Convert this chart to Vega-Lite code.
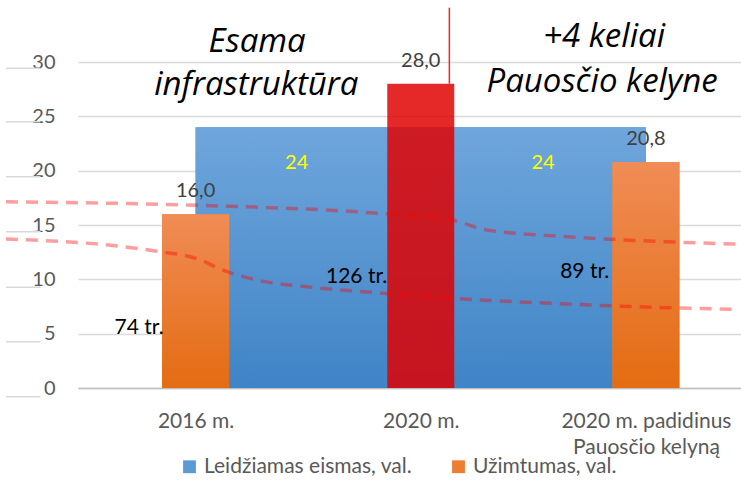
{
  "$schema": "https://vega.github.io/schema/vega-lite/v6.json",
  "width": 663,
  "height": 326,
  "autosize": {"type": "none"},
  "padding": {"left": 78, "top": 62, "right": 0, "bottom": 108},
  "background": "white",
  "config": {
    "font": "Lato",
    "view": {"stroke": null}
  },
  "datasets": {
    "bars": [
      {"x": 0, "value": 16.0, "label": "16,0", "kind": "orange", "series": "Užimtumas, val."},
      {"x": 1, "value": 28.0, "label": "28,0", "kind": "red", "series": "Užimtumas, val."},
      {"x": 2, "value": 20.8, "label": "20,8", "kind": "orange", "series": "Užimtumas, val."}
    ],
    "capacity": [
      {"x": 0, "value": 24, "series": "Leidžiamas eismas, val."},
      {"x": 2, "value": 24, "series": "Leidžiamas eismas, val."}
    ],
    "capLabels": [
      {"x": 0.449, "y": 20.7, "text": "24"},
      {"x": 1.543, "y": 20.7, "text": "24"}
    ],
    "titles": [
      {"x": 0.273, "y": 31.84, "text": "Esama"},
      {"x": 0.27, "y": 27.88, "text": "infrastruktūra"},
      {"x": 1.814, "y": 32.3, "text": "+4 keliai"},
      {"x": 1.805, "y": 28.16, "text": "Pauosčio kelyne"}
    ],
    "trucks": [
      {"x": -0.142, "y": 5.55, "text": "74 tr."},
      {"x": 0.851, "y": 10.19, "text": "126 tr."},
      {"x": 1.837, "y": 10.65, "text": "89 tr."}
    ],
    "trend": [
      {"line": "a", "x": -0.842, "y": 17.14},
      {"line": "a", "x": -0.042, "y": 16.84},
      {"line": "a", "x": 0.777, "y": 16.13},
      {"line": "a", "x": 1.127, "y": 15.52},
      {"line": "a", "x": 1.193, "y": 15.14},
      {"line": "a", "x": 1.271, "y": 14.63},
      {"line": "a", "x": 1.652, "y": 13.92},
      {"line": "a", "x": 2.09, "y": 13.46},
      {"line": "a", "x": 2.4, "y": 13.25},
      {"line": "b", "x": -0.842, "y": 13.71},
      {"line": "b", "x": -0.186, "y": 12.63},
      {"line": "b", "x": 0.033, "y": 11.69},
      {"line": "b", "x": 0.098, "y": 11.04},
      {"line": "b", "x": 0.252, "y": 10.03},
      {"line": "b", "x": 0.514, "y": 9.27},
      {"line": "b", "x": 0.807, "y": 8.77},
      {"line": "b", "x": 1.14, "y": 8.25},
      {"line": "b", "x": 1.578, "y": 7.79},
      {"line": "b", "x": 2.09, "y": 7.39},
      {"line": "b", "x": 2.4, "y": 7.24}
    ],
    "marker": [
      {"x": 1.127, "y": 35, "y2": 28}
    ],
    "bgGrid": [
      {"x": -0.842, "x2": -0.689, "y": 29.42},
      {"x": -0.842, "x2": -0.689, "y": 24.5},
      {"x": -0.842, "x2": -0.689, "y": 19.44},
      {"x": -0.842, "x2": -0.689, "y": 14.38},
      {"x": -0.842, "x2": -0.689, "y": 9.27},
      {"x": -0.842, "x2": -0.689, "y": 4.26},
      {"x": -0.842, "x2": -0.689, "y": -0.8}
    ]
  },
  "layer": [
    {
      "data": {"name": "capacity"},
      "mark": {"type": "area"},
      "encoding": {
        "x": {
          "field": "x", "type": "quantitative",
          "scale": {"domain": [-0.5, 2.4], "nice": false, "zero": false},
          "axis": {
            "values": [0, 1, 2],
            "labelExpr": "datum.value == 0 ? '2016 m.' : datum.value == 1 ? '2020 m.' : ['2020 m. padidinus', 'Pauosčio kelyną']",
            "title": null,
            "grid": false,
            "ticks": false,
            "domainColor": "#bfbfbf",
            "domainWidth": 1.5,
            "labelFontSize": 21,
            "labelColor": "#595959",
            "labelPadding": 22,
            "labelLineHeight": 26,
            "labelFlush": false,
            "labelOverlap": false,
            "labelBound": false
          }
        },
        "y": {
          "field": "value", "type": "quantitative",
          "scale": {"domain": [0, 30], "nice": false},
          "axis": {
            "values": [0, 5, 10, 15, 20, 25, 30],
            "title": null,
            "grid": true,
            "gridColor": "#d9d9d9",
            "gridWidth": 1.5,
            "domain": false,
            "ticks": false,
            "labelFontSize": 20,
            "labelColor": "#595959",
            "labelPadding": 23
          }
        },
        "color": {
          "field": "series", "type": "nominal",
          "scale": {"domain": ["Leidžiamas eismas, val.", "Užimtumas, val."], "range": ["#5b9bd5", "#ed7d31"]},
          "legend": {
            "title": null,
            "orient": "none",
            "legendX": 101,
            "legendY": 394,
            "padding": 0,
            "direction": "horizontal",
            "symbolType": "square",
            "symbolSize": 165,
            "symbolStrokeWidth": 0,
            "labelFontSize": 21,
            "labelColor": "#595959",
            "labelLimit": 400,
            "columnPadding": 35,
            "labelOffset": 4
          }
        }
      }
    },
    {
      "data": {"name": "bgGrid"},
      "mark": {"type": "rule", "color": "#d9d9d9", "strokeWidth": 1.5, "clip": false},
      "encoding": {
        "x": {"field": "x", "type": "quantitative"},
        "x2": {"field": "x2"},
        "y": {"field": "y", "type": "quantitative"}
      }
    },
    {
      "data": {"name": "capacity"},
      "mark": {
        "type": "area",
        "fill": {"gradient": "linear", "x1": 0, "y1": 0, "x2": 0, "y2": 1,
          "stops": [{"offset": 0, "color": "#6fa6dc"}, {"offset": 1, "color": "#3f84c6"}]}
      },
      "encoding": {
        "x": {"field": "x", "type": "quantitative"},
        "y": {"field": "value", "type": "quantitative"}
      }
    },
    {
      "data": {"name": "capLabels"},
      "mark": {"type": "text", "color": "#ffff00", "fontSize": 20, "baseline": "middle", "align": "center"},
      "encoding": {
        "x": {"field": "x", "type": "quantitative"},
        "y": {"field": "y", "type": "quantitative"},
        "text": {"field": "text"}
      }
    },
    {
      "data": {"name": "bars"},
      "transform": [{"filter": "datum.kind == 'orange'"}],
      "mark": {"type": "bar", "size": 67},
      "encoding": {
        "x": {"field": "x", "type": "quantitative"},
        "y": {"field": "value", "type": "quantitative"},
        "color": {"field": "series", "type": "nominal"}
      }
    },
    {
      "data": {"name": "bars"},
      "transform": [{"filter": "datum.kind == 'orange'"}],
      "mark": {
        "type": "bar", "size": 67,
        "fill": {"gradient": "linear", "x1": 0, "y1": 0, "x2": 0, "y2": 1,
          "stops": [{"offset": 0, "color": "#f08c56"}, {"offset": 1, "color": "#e46c12"}]}
      },
      "encoding": {
        "x": {"field": "x", "type": "quantitative"},
        "y": {"field": "value", "type": "quantitative"}
      }
    },
    {
      "data": {"name": "bars"},
      "transform": [{"filter": "datum.kind == 'red'"}],
      "mark": {"type": "bar", "size": 67, "fill": "#e00000", "opacity": 0.84},
      "encoding": {
        "x": {"field": "x", "type": "quantitative"},
        "y": {"field": "value", "type": "quantitative"}
      }
    },
    {
      "data": {"name": "marker"},
      "mark": {"type": "rule", "color": "#ff2020", "strokeWidth": 1.5},
      "encoding": {
        "x": {"field": "x", "type": "quantitative"},
        "y": {"field": "y", "type": "quantitative"},
        "y2": {"field": "y2"}
      }
    },
    {
      "data": {"name": "bars"},
      "mark": {"type": "text", "color": "#404040", "fontSize": 20, "baseline": "alphabetic", "align": "center", "dy": -17},
      "encoding": {
        "x": {"field": "x", "type": "quantitative"},
        "y": {"field": "value", "type": "quantitative"},
        "text": {"field": "label"}
      }
    },
    {
      "data": {"name": "trend"},
      "mark": {"type": "line", "color": "#ff0000", "opacity": 0.38, "strokeWidth": 3.5, "strokeDash": [12, 8], "interpolate": "monotone", "clip": false},
      "encoding": {
        "x": {"field": "x", "type": "quantitative"},
        "y": {"field": "y", "type": "quantitative"},
        "detail": {"field": "line"}
      }
    },
    {
      "data": {"name": "trucks"},
      "mark": {"type": "text", "color": "#000000", "fontSize": 21, "baseline": "middle", "align": "right"},
      "encoding": {
        "x": {"field": "x", "type": "quantitative"},
        "y": {"field": "y", "type": "quantitative"},
        "text": {"field": "text"}
      }
    },
    {
      "data": {"name": "titles"},
      "mark": {"type": "text", "color": "#000000", "font": "Open Sans", "fontSize": 33, "fontStyle": "italic", "baseline": "middle", "align": "center"},
      "encoding": {
        "x": {"field": "x", "type": "quantitative"},
        "y": {"field": "y", "type": "quantitative"},
        "text": {"field": "text"}
      }
    }
  ]
}
